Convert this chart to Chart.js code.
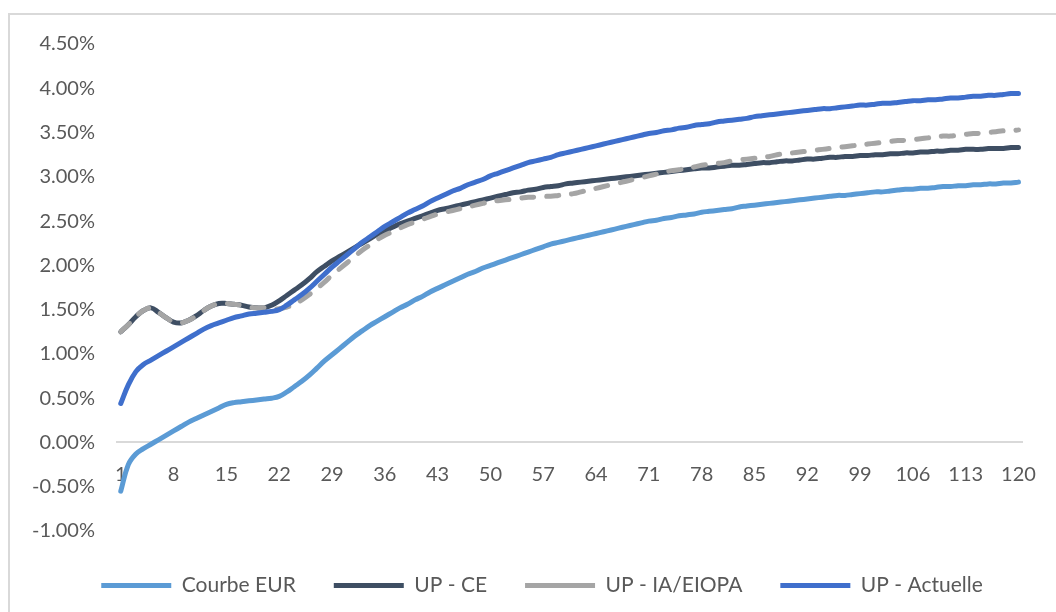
<!DOCTYPE html>
<html>
<head>
<meta charset="utf-8">
<script src="https://cdn.jsdelivr.net/npm/chart.js@4/dist/chart.umd.min.js"></script>
<style>
  html, body { margin: 0; padding: 0; background: #fff; overflow: hidden; }
  #frame { position: absolute; left: 8px; top: 13px; width: 1200px; height: 800px; border: 2px solid #d9d9d9; }
  #mainChart { position: absolute; left: 0; top: 0; }
</style>
</head>
<body>
<div id="frame"></div>
<canvas id="mainChart" width="1056" height="612"></canvas>
<script>
// maturities 1..120 (years), rates in %
const maturities = Array.from({ length: 120 }, (_, i) => String(i + 1))

const courbeEur = [
  -0.55, -0.25, -0.13, -0.07, -0.02, 0.03, 0.08, 0.13, 0.18, 0.23,
  0.27, 0.31, 0.35, 0.39, 0.43, 0.45, 0.46, 0.47, 0.48, 0.49,
  0.50, 0.52, 0.57, 0.63, 0.69, 0.76, 0.84, 0.92, 0.99, 1.06,
  1.13, 1.20, 1.26, 1.32, 1.37, 1.42, 1.47, 1.52, 1.56, 1.61,
  1.65, 1.70, 1.74, 1.78, 1.82, 1.86, 1.90, 1.93, 1.97, 2.00,
  2.03, 2.06, 2.09, 2.12, 2.15, 2.18, 2.21, 2.24, 2.26, 2.28,
  2.30, 2.32, 2.34, 2.36, 2.38, 2.40, 2.42, 2.44, 2.46, 2.48,
  2.50, 2.51, 2.53, 2.54, 2.56, 2.57, 2.58, 2.60, 2.61, 2.62,
  2.63, 2.64, 2.66, 2.67, 2.68, 2.69, 2.70, 2.71, 2.72, 2.73,
  2.74, 2.75, 2.76, 2.77, 2.78, 2.79, 2.79, 2.80, 2.81, 2.82,
  2.83, 2.83, 2.84, 2.85, 2.86, 2.86, 2.87, 2.87, 2.88, 2.89,
  2.89, 2.90, 2.90, 2.91, 2.91, 2.92, 2.92, 2.93, 2.93, 2.94
]

const upCe = [
  1.25, 1.33, 1.42, 1.49, 1.52, 1.47, 1.41, 1.36, 1.35, 1.38,
  1.43, 1.49, 1.54, 1.57, 1.57, 1.56, 1.55, 1.53, 1.52, 1.52,
  1.55, 1.60, 1.66, 1.72, 1.78, 1.85, 1.93, 1.99, 2.05, 2.10,
  2.15, 2.20, 2.25, 2.30, 2.35, 2.39, 2.43, 2.47, 2.50, 2.53,
  2.56, 2.59, 2.62, 2.64, 2.66, 2.68, 2.70, 2.72, 2.74, 2.76,
  2.78, 2.80, 2.82, 2.83, 2.85, 2.86, 2.88, 2.89, 2.90, 2.92,
  2.93, 2.94, 2.95, 2.96, 2.97, 2.98, 2.99, 3.00, 3.01, 3.02,
  3.03, 3.04, 3.05, 3.06, 3.07, 3.08, 3.09, 3.10, 3.10, 3.11,
  3.12, 3.13, 3.13, 3.14, 3.15, 3.16, 3.16, 3.17, 3.18, 3.18,
  3.19, 3.20, 3.20, 3.21, 3.22, 3.22, 3.23, 3.23, 3.24, 3.24,
  3.25, 3.25, 3.26, 3.26, 3.27, 3.27, 3.28, 3.28, 3.29, 3.29,
  3.30, 3.30, 3.31, 3.31, 3.31, 3.32, 3.32, 3.32, 3.33, 3.33
]

const upIaEiopa = [
  1.25, 1.33, 1.42, 1.49, 1.52, 1.47, 1.41, 1.36, 1.35, 1.38,
  1.43, 1.49, 1.54, 1.57, 1.57, 1.56, 1.55, 1.53, 1.52, 1.52,
  1.51, 1.51, 1.53, 1.56, 1.61, 1.67, 1.74, 1.81, 1.89, 1.96,
  2.03, 2.10, 2.17, 2.23, 2.29, 2.34, 2.38, 2.42, 2.46, 2.49,
  2.52, 2.55, 2.58, 2.60, 2.62, 2.64, 2.66, 2.68, 2.70, 2.72,
  2.73, 2.74, 2.75, 2.76, 2.77, 2.77, 2.78, 2.78, 2.79, 2.80,
  2.81, 2.83, 2.85, 2.87, 2.89, 2.91, 2.93, 2.95, 2.97, 2.99,
  3.01, 3.03, 3.05, 3.07, 3.08, 3.10, 3.11, 3.13, 3.14, 3.15,
  3.16, 3.18, 3.19, 3.20, 3.21, 3.22, 3.23, 3.25, 3.26, 3.27,
  3.28, 3.29, 3.30, 3.31, 3.32, 3.33, 3.34, 3.35, 3.36, 3.37,
  3.38, 3.39, 3.40, 3.41, 3.41, 3.42, 3.43, 3.44, 3.45, 3.46,
  3.46, 3.47, 3.48, 3.49, 3.49, 3.50, 3.51, 3.52, 3.52, 3.53
]

const upActuelle = [
  0.44, 0.65, 0.80, 0.88, 0.93, 0.98, 1.03, 1.08, 1.13, 1.18,
  1.23, 1.28, 1.32, 1.35, 1.38, 1.41, 1.43, 1.45, 1.46, 1.47,
  1.48, 1.50, 1.55, 1.61, 1.67, 1.74, 1.82, 1.90, 1.98, 2.05,
  2.12, 2.19, 2.26, 2.32, 2.38, 2.44, 2.49, 2.54, 2.59, 2.63,
  2.67, 2.72, 2.76, 2.80, 2.84, 2.87, 2.91, 2.94, 2.97, 3.01,
  3.04, 3.07, 3.10, 3.13, 3.16, 3.18, 3.20, 3.22, 3.25, 3.27,
  3.29, 3.31, 3.33, 3.35, 3.37, 3.39, 3.41, 3.43, 3.45, 3.47,
  3.49, 3.50, 3.52, 3.53, 3.55, 3.56, 3.58, 3.59, 3.60, 3.62,
  3.63, 3.64, 3.65, 3.66, 3.68, 3.69, 3.70, 3.71, 3.72, 3.73,
  3.74, 3.75, 3.76, 3.77, 3.77, 3.78, 3.79, 3.80, 3.81, 3.81,
  3.82, 3.83, 3.83, 3.84, 3.85, 3.86, 3.86, 3.87, 3.87, 3.88,
  3.89, 3.89, 3.90, 3.91, 3.91, 3.92, 3.92, 3.93, 3.94, 3.94
]

const seriesNames = ["Courbe EUR", "UP - CE", "UP - IA/EIOPA", "UP - Actuelle"]
const seriesColors = ["#5B9BD5", "#3E4E63", "#A5A5A5", "#3F6FCC"]

const yMin = -1.0
const yMax = 4.5
const yStep = 0.5
const labelEvery = 7

const fontFamily = "Lato, 'Open Sans', sans-serif"
const textColor = "#595959"

function lineDataset(i, values, extra) {
  return Object.assign({
    label: seriesNames[i],
    data: values,
    borderColor: seriesColors[i],
    backgroundColor: seriesColors[i],
    borderWidth: 5,
    borderCapStyle: 'round',
    borderJoinStyle: 'round',
    pointRadius: 0,
    tension: 0.4,
    fill: false,
    order: 3 - i // excel draws the last series on top
  }, extra || {})
}

// the legend row sits a bit right of the canvas centre in the original
const legendShift = {
  id: 'legendShift',
  afterLayout(chart) {
    chart.legend.left += 28
    chart.legend.right += 28
  }
}

const ctx = document.getElementById('mainChart').getContext('2d')
window.myChart = new Chart(ctx, {
  type: 'line',
  data: {
    labels: maturities,
    datasets: [
      lineDataset(0, courbeEur),
      lineDataset(1, upCe),
      lineDataset(2, upIaEiopa, { borderDash: [12, 13] }),
      lineDataset(3, upActuelle)
    ]
  },
  plugins: [legendShift],
  options: {
    responsive: false,
    animation: false,
    layout: { padding: { top: 44, right: 28, bottom: 6, left: 0 } },
    scales: {
      x: {
        position: { y: 0 },
        offset: true,
        grid: { display: false, drawTicks: false },
        border: { display: true, color: '#D9D9D9', width: 2 },
        ticks: {
          autoSkip: false,
          maxRotation: 0,
          padding: 20,
          color: textColor,
          font: { family: fontFamily, size: 20 },
          callback: function(value, index) {
            return index % labelEvery === 0 ? this.getLabelForValue(value) : ''
          }
        }
      },
      y: {
        min: yMin,
        max: yMax,
        afterFit: s => { s.width = 117 },
        grid: { display: false, drawTicks: false },
        border: { display: false },
        ticks: {
          stepSize: yStep,
          padding: 22,
          color: textColor,
          font: { family: fontFamily, size: 20 },
          callback: v => v.toFixed(2) + '%'
        }
      }
    },
    plugins: {
      tooltip: { enabled: false },
      legend: {
        position: 'bottom',
        // empty title only used as a spacer above the legend row
        title: { display: true, text: ' ', padding: 0, font: { size: 5 } },
        labels: {
          usePointStyle: true,
          pointStyle: 'line',
          pointStyleWidth: 70,
          padding: 38,
          color: textColor,
          font: { family: fontFamily, size: 21 },
          sort: (a, b) => a.datasetIndex - b.datasetIndex
        }
      }
    }
  }
})
</script>
</body>
</html>
